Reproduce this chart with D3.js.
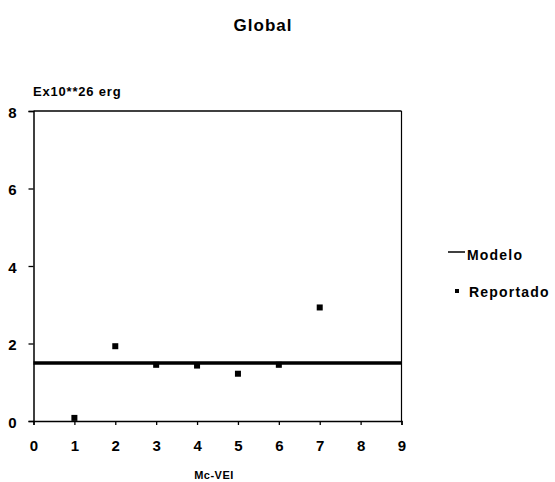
<!DOCTYPE html>
<html><head><meta charset="utf-8">
<script src="https://cdn.jsdelivr.net/npm/d3@7"></script>
<style>
body{margin:0;background:#fff;}
text{font-family:"Liberation Sans","Arial",sans-serif;font-weight:bold;fill:#000;}
</style></head>
<body><svg id="c" width="555" height="482"></svg>
<script>
const xTicks = [0,1,2,3,4,5,6,7,8,9];
const yTicks = [0,2,4,6,8];
const reportedX = [1,2,3,4,5,6,7];
const reportedY = [0.08,1.93,1.45,1.43,1.22,1.45,2.93];
const modelX = [0,9];
const modelY = [1.5,1.5];
const title = "Global";
const yTitle = "Ex10**26 erg";
const xTitle = "Mc-VEI";
const legendLabels = ["Modelo","Reportado"];

const svg = d3.select("#c");
const x = d3.scaleLinear().domain([0,9]).range([33.5,401.5]);
const y = d3.scaleLinear().domain([0,8]).range([421,111]);

// frame
svg.append("line").attr("x1",x(0)).attr("x2",x(9)).attr("y1",y(8)).attr("y2",y(8)).attr("stroke","#000").attr("stroke-width",1.5);
svg.append("line").attr("x1",x(9)).attr("x2",x(9)).attr("y1",y(8)).attr("y2",y(0)).attr("stroke","#000").attr("stroke-width",1.2);

const xAxis = svg.append("g").attr("transform",`translate(0,${y(0)})`)
  .call(d3.axisBottom(x).tickValues(xTicks).tickFormat(d3.format("d")).tickSize(4).tickPadding(15));
const yAxis = svg.append("g").attr("transform",`translate(${x(0)},0)`)
  .call(d3.axisLeft(y).tickValues(yTicks).tickFormat(d3.format("d")).tickSize(5).tickPadding(16));
[xAxis,yAxis].forEach(a=>{
  a.select(".domain").attr("stroke","#000").attr("stroke-width",1.5);
  a.selectAll(".tick line").attr("stroke","#000").attr("stroke-width",1.3);
  a.selectAll("text").style("font-size","15px").style("font-family","'Liberation Sans',Arial,sans-serif").style("font-weight","bold");
});
yAxis.selectAll("text").attr("text-anchor","middle").attr("dx","0").attr("dy","0.4em");

// model line
const line = d3.line().x((d,i)=>x(modelX[i])).y(d=>y(d));
svg.append("path").datum(modelY).attr("d",line).attr("fill","none").attr("stroke","#000").attr("stroke-width",3.5);

// reported points
svg.selectAll("rect.pt").data(reportedX).enter().append("rect").attr("class","pt")
  .attr("x",(d)=>x(d)-3).attr("y",(d,i)=>y(reportedY[i])-3).attr("width",6).attr("height",6).attr("fill","#000");

// titles
svg.append("text").attr("x",263).attr("y",31).attr("text-anchor","middle").style("font-size","17px").style("letter-spacing","1px").text(title);
svg.append("text").attr("x",33).attr("y",96).style("font-size","13px").style("letter-spacing","0.8px").text(yTitle);
svg.append("text").attr("x",214).attr("y",479).attr("text-anchor","middle").style("font-size","11px").style("letter-spacing","0.5px").text(xTitle);

// legend
svg.append("line").attr("x1",448).attr("x2",465).attr("y1",252).attr("y2",252).attr("stroke","#000").attr("stroke-width",1.5);
svg.append("text").attr("x",467).attr("y",260).style("font-size","14px").style("letter-spacing","1.2px").text(legendLabels[0]);
svg.append("rect").attr("x",455).attr("y",289).attr("width",4).attr("height",4).attr("fill","#000");
svg.append("text").attr("x",469).attr("y",297).style("font-size","14px").style("letter-spacing","1.2px").text(legendLabels[1]);
</script></body></html>
